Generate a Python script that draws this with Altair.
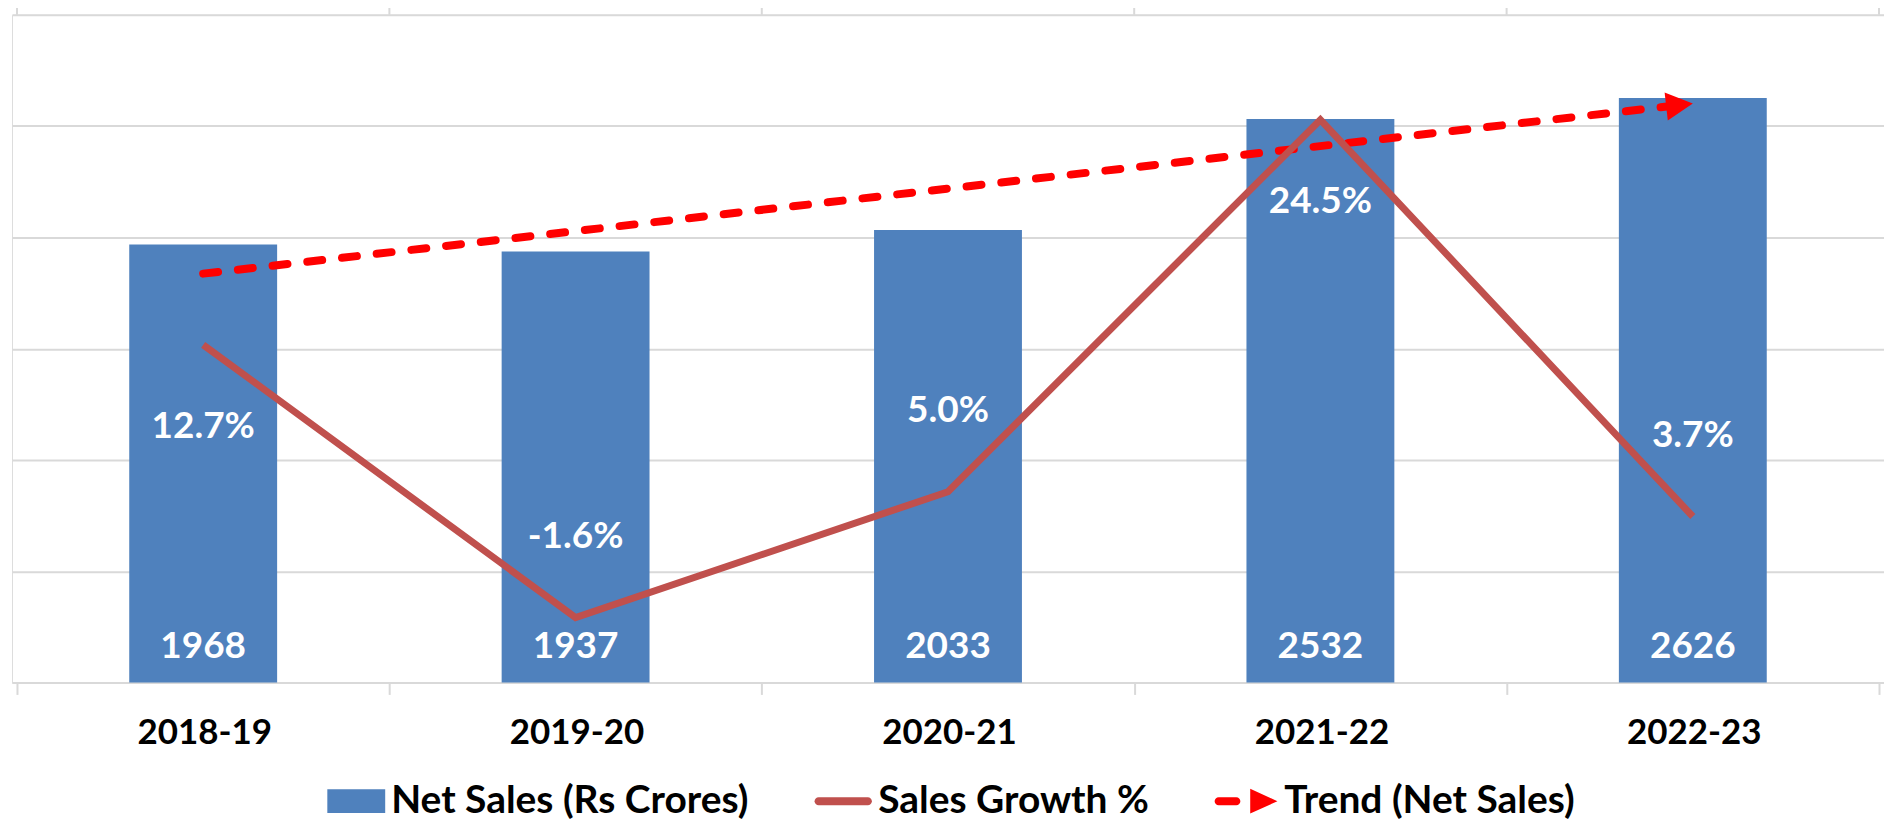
import json
import math
import numpy as np
import pandas as pd
import altair as alt

# ---------------- data ----------------
years = ["2018-19", "2019-20", "2020-21", "2021-22", "2022-23"]
net_sales = [1968, 1937, 2033, 2532, 2626]
sales_growth = [12.7, -1.6, 5.0, 24.5, 3.7]
series_names = ["Net Sales (Rs Crores)", "Sales Growth %", "Trend (Net Sales)"]
series_colors = ["#4F81BD", "#C0504D", "#FF0000"]

# ---------------- layout / style ----------------
W, H = 1876, 669
n = len(years)
step = W / n
FONT = "Lato"
GRID = "#D9D9D9"
LEFT_MAX = 3000
RIGHT_DOM = [-5, 30]

df = pd.DataFrame({
    "idx": list(range(n)),
    "year": years,
    "sales": net_sales,
    "growth": sales_growth,
})
bounds = [i - 0.5 for i in range(n + 1)]
bounds_df = pd.DataFrame({"b": bounds})

xscale = alt.Scale(domain=[-0.5, n - 0.5], nice=False, zero=False)
yleft = alt.Scale(domain=[0, LEFT_MAX], nice=False)
yright = alt.Scale(domain=RIGHT_DOM, nice=False)

label_expr = "%s[round(datum.value + 0.5)] || ''" % json.dumps(years).replace('"', "'")

bottom_axis = alt.Axis(
    orient="bottom", values=bounds, labelExpr=label_expr, labelOffset=step / 2,
    labelFlush=False, labelOverlap=False, labelFont=FONT, labelFontSize=35,
    labelFontWeight="bold", labelColor="black", labelBaseline="middle",
    labelPadding=38, ticks=True, tickSize=12, tickColor=GRID, tickWidth=2,
    domain=True, domainColor=GRID, domainWidth=2, grid=False, title=None,
)
left_axis = alt.Axis(
    grid=True, tickCount=6, labels=False, ticks=False, domain=False, title=None,
    gridColor=GRID, gridWidth=2,
)

base = alt.Chart(df)

bars = base.mark_bar(size=step * 0.395, color=series_colors[0]).encode(
    x=alt.X("idx:Q", scale=xscale, axis=bottom_axis),
    y=alt.Y("sales:Q", scale=yleft, axis=left_axis),
)

# small category-boundary ticks on the top frame line
top_ticks = alt.Chart(bounds_df).mark_tick(
    orient="vertical", size=8, thickness=2, color=GRID, yOffset=-4, opacity=1,
).encode(
    x=alt.X("b:Q", scale=xscale),
    y=alt.YDatum(LEFT_MAX, scale=yleft),
)

bar_labels = base.mark_text(
    font=FONT, fontSize=37, fontWeight="bold", color="white",
    baseline="middle", dy=-35,
).encode(
    x=alt.X("idx:Q", scale=xscale),
    y=alt.YDatum(0, scale=yleft),
    text=alt.Text("sales:Q", format="d"),
)

# trend (linear regression of net sales) with arrow head at the end
slope, intercept = np.polyfit(df["idx"], df["sales"], 1)
px_slope = slope * (H / LEFT_MAX) / step
arrow_angle = (360 - math.degrees(math.atan(px_slope))) % 360

trend_base = base.transform_regression("idx", "sales")
trend = trend_base.mark_line(
    color=series_colors[2], strokeWidth=8, strokeDash=[15, 20], strokeCap="round",
).encode(
    x=alt.X("idx:Q", scale=xscale),
    y=alt.Y("sales:Q", scale=yleft),
)
arrow = trend_base.transform_joinaggregate(last="max(idx)").transform_filter(
    "datum.idx == datum.last"
).mark_point(
    shape="M0,0L-2,-1.05L-2,1.05Z", filled=True, color=series_colors[2],
    size=720, angle=arrow_angle, opacity=1, strokeWidth=0,
).encode(
    x=alt.X("idx:Q", scale=xscale),
    y=alt.Y("sales:Q", scale=yleft),
)

left = alt.layer(bars, top_ticks, bar_labels, trend, arrow)

# growth line on secondary scale
growth_line = base.mark_line(
    color=series_colors[1], strokeWidth=7, strokeJoin="miter",
).encode(
    x=alt.X("idx:Q", scale=xscale),
    y=alt.Y("growth:Q", scale=yright, axis=None),
)

gbase = base.transform_calculate(
    glabel="replace(format(datum.growth, '.1f'), '\u2212', '-') + '%'"
)
text_style = dict(font=FONT, fontSize=37, fontWeight="bold", color="white", baseline="middle")
glabels_below = gbase.transform_filter("datum.growth > 10").mark_text(dy=82, **text_style).encode(
    x=alt.X("idx:Q", scale=xscale),
    y=alt.Y("growth:Q", scale=yright, axis=None),
    text="glabel:N",
)
glabels_above = gbase.transform_filter("datum.growth <= 10").mark_text(dy=-81, **text_style).encode(
    x=alt.X("idx:Q", scale=xscale),
    y=alt.Y("growth:Q", scale=yright, axis=None),
    text="glabel:N",
)

right = alt.layer(growth_line, glabels_below, glabels_above)

# legend (symbol shapes drawn in unit box, scaled by symbolSize)
legend_shapes = [
    "M-1,-0.41H1V0.41H-1Z",
    "M-0.85,-0.14H0.85A0.14,0.14 0 0 1 0.85,0.14H-0.85A0.14,0.14 0 0 1 -0.85,-0.14Z",
    "M-1.06,-0.14H-0.45A0.14,0.14 0 0 1 -0.45,0.14H-1.06A0.14,0.14 0 0 1 -1.06,-0.14Z"
    "M0.03,-0.43L0.97,0L0.03,0.43Z",
]
legend_cfg = dict(
    orient="none", legendX=316, legendY=759, direction="horizontal", title=None,
    symbolSize=3364, symbolStrokeWidth=0, symbolOpacity=1,
    labelFont=FONT, labelFontSize=39, labelFontWeight="bold", labelColor="black",
    labelOffset=6, columnPadding=65, labelLimit=2000,
)
legend_layer = alt.Chart(pd.DataFrame({"series": series_names})).mark_point(
    filled=True, opacity=1, clip=True,
).encode(
    x=alt.XDatum(-100, scale=xscale),
    color=alt.Color("series:N", sort=series_names,
                    scale=alt.Scale(domain=series_names, range=series_colors),
                    legend=alt.Legend(**legend_cfg)),
    shape=alt.Shape("series:N", sort=series_names,
                    scale=alt.Scale(domain=series_names, range=legend_shapes),
                    legend=alt.Legend(**legend_cfg)),
)

chart = alt.layer(left, right, legend_layer).resolve_scale(
    y="independent"
).properties(
    width=W, height=H,
    padding={"left": 4, "top": 6, "right": 0, "bottom": 140},
    autosize=alt.AutoSizeParams(type="none"),
    background="white",
).configure_view(stroke=None).configure(font=FONT)

chart.save("out.html", embed_options={"renderer": "svg", "actions": False})
